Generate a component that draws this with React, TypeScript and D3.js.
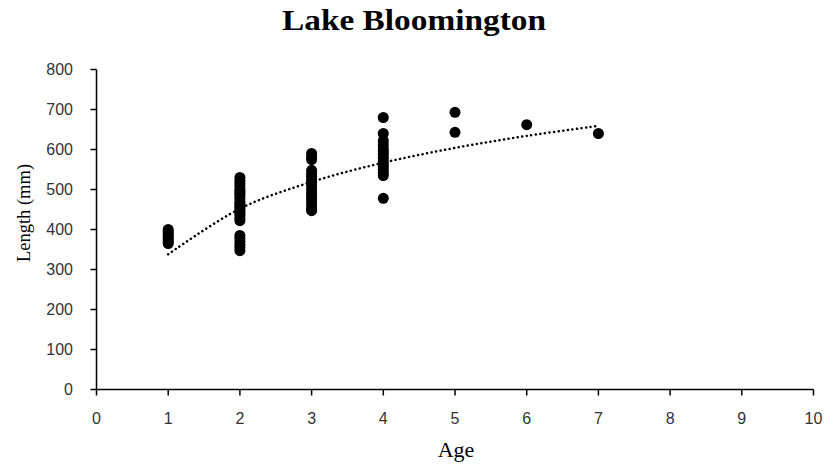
import React from "react";
import * as d3 from "d3";

const title = "Lake Bloomington";
const xLabel = "Age";
const yLabel = "Length (mm)";
const xTicks = [0, 1, 2, 3, 4, 5, 6, 7, 8, 9, 10];
const yTicks = [0, 100, 200, 300, 400, 500, 600, 700, 800];

const age1 = [365, 370, 375, 380, 385, 390, 395, 400];
const age2 = [347, 355, 362, 370, 378, 385, 422, 428, 435, 440, 445, 450, 455, 460, 465, 470, 478, 485, 490, 495, 500, 508, 515, 522, 530];
const age3 = [447, 452, 460, 470, 478, 485, 492, 500, 510, 518, 525, 533, 540, 548, 575, 582, 590];
const age4 = [478, 535, 542, 550, 558, 565, 572, 580, 588, 595, 602, 612, 622, 640, 680];
const age5 = [643, 693];
const age6 = [662];
const age7 = [640];
const groups: [number, number[]][] = [
  [1, age1], [2, age2], [3, age3], [4, age4], [5, age5], [6, age6], [7, age7],
];

const trendAges = [1, 2, 3, 4, 5, 6, 7];
const trendLengths = [338, 452, 519, 567, 604, 634, 659];

export default function App() {
  const W = 830, H = 466;
  const x = d3.scaleLinear().domain([0, 10]).range([96.5, 813.5]);
  const y = d3.scaleLinear().domain([0, 800]).range([389.5, 69.5]);
  const line = d3
    .line<[number, number]>()
    .x((d) => x(d[0]))
    .y((d) => y(d[1]))
    .curve(d3.curveCatmullRom);
  const trend = trendAges.map((a, i) => [a, trendLengths[i]] as [number, number]);
  const serif = "'Liberation Serif', 'Times New Roman', serif";
  const sans = "'Liberation Sans', Arial, sans-serif";
  return (
    <svg width={W} height={H} style={{ position: "absolute", left: 0, top: 0, background: "#fff" }}>
      <rect width={W} height={H} fill="#fff" />
      <text x={414} y={30} textAnchor="middle" fontFamily={serif} fontWeight="bold" fontSize={29}
        textLength={264} lengthAdjust="spacingAndGlyphs" fill="#000">
        {title}
      </text>
      {/* axes */}
      <line x1={x(0)} x2={x(0)} y1={y(800)} y2={y(0)} stroke="#000" strokeWidth={1.5} />
      <line x1={x(0)} x2={x(10)} y1={y(0)} y2={y(0)} stroke="#000" strokeWidth={1.5} />
      {yTicks.map((t) => (
        <g key={"y" + t}>
          <line x1={x(0) - 6} x2={x(0)} y1={y(t)} y2={y(t)} stroke="#000" strokeWidth={1.5} />
          <text x={73} y={y(t)} dy="0.36em" textAnchor="end" fontFamily={sans} fontSize={16} fill="#333">
            {t}
          </text>
        </g>
      ))}
      {xTicks.map((t) => (
        <g key={"x" + t}>
          <line x1={x(t)} x2={x(t)} y1={y(0)} y2={y(0) + 6} stroke="#000" strokeWidth={1.5} />
          <text x={x(t)} y={418} dy="0.36em" textAnchor="middle" fontFamily={sans} fontSize={16} fill="#333">
            {t}
          </text>
        </g>
      ))}
      <text x={456} y={457} textAnchor="middle" fontFamily={serif} fontSize={22} fill="#000">
        {xLabel}
      </text>
      <text transform={`translate(24,213) rotate(-90)`} dy="0.35em" textAnchor="middle" fontFamily={serif} fontSize={18.5} fill="#000">
        {yLabel}
      </text>
      {/* points */}
      {groups.map(([a, vals]) =>
        vals.map((v, i) => <circle key={a + "-" + i} cx={x(a)} cy={y(v)} r={5.5} fill="#000" />)
      )}
      {/* trend */}
      <path d={line(trend) || ""} fill="none" stroke="#000" strokeWidth={2.5} strokeDasharray="0.1 4.5" strokeLinecap="round" />
    </svg>
  );
}
